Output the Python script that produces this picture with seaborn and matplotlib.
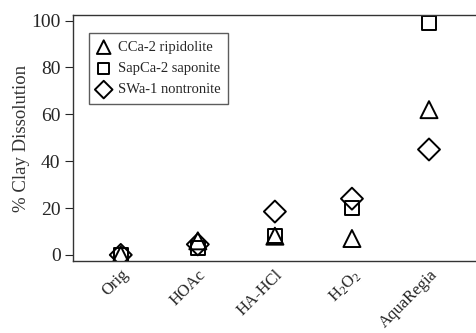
# Clay dissolution by extraction step

import pandas as pd
import seaborn as sns
import matplotlib.pyplot as plt

# Data
steps = ['Orig', 'HOAc', 'HA-HCl', 'H2O2', 'AquaRegia']
step_labels = ['Orig', 'HOAc', 'HA-HCl', 'H$_2$O$_2$', 'AquaRegia']
ripidolite = [0, 6, 8, 7, 62]
saponite = [0, 3, 8, 20, 99]
nontronite = [0, 4.5, 18.5, 24, 45]
series_names = ['CCa-2 ripidolite', 'SapCa-2 saponite', 'SWa-1 nontronite']

frames = []
for name, vals in zip(series_names, [ripidolite, saponite, nontronite]):
    frames.append(pd.DataFrame({'step': steps, 'value': vals, 'clay': name}))
data = pd.concat(frames, ignore_index=True)

sns.set_style('ticks')
plt.rcParams['font.family'] = ['Liberation Serif', 'DejaVu Serif']
plt.rcParams['mathtext.fontset'] = 'custom'
plt.rcParams['mathtext.rm'] = 'Liberation Serif'
plt.rcParams['mathtext.it'] = 'Liberation Serif:italic'

fig = plt.figure(figsize=(4.76, 3.33), dpi=100)
ax = fig.add_axes([73 / 476, 1 - 261 / 333, 1 - 73 / 476, (261 - 15) / 333])

markers = {'CCa-2 ripidolite': '^', 'SapCa-2 saponite': 's', 'SWa-1 nontronite': 'D'}
sizes = {'CCa-2 ripidolite': 150, 'SapCa-2 saponite': 95, 'SWa-1 nontronite': 125}
for name in series_names:
    sub = data[data['clay'] == name]
    sns.scatterplot(data=sub, x='step', y='value', marker=markers[name], s=sizes[name],
                    facecolor='none', edgecolor='black', linewidth=1.4, label=name, ax=ax)

ax.set_xlim(-0.62, 4.61)
ax.set_ylim(-2.6, 102.4)
ax.set_yticks([0, 20, 40, 60, 80, 100])
ax.set_xticks(range(len(steps)))
ax.set_xticklabels(step_labels, rotation=45, ha='right', rotation_mode='anchor', fontsize=12)
ax.tick_params(axis='y', labelsize=14, length=6, width=0.8, direction='out', pad=3)
ax.tick_params(axis='x', length=0, pad=4)
ax.set_xlabel('')
ax.set_ylabel('% Clay Dissolution', fontsize=13.5, color='#333333', labelpad=1)
ax.spines['right'].set_visible(False)
for side in ['left', 'top', 'bottom']:
    ax.spines[side].set_linewidth(1.0)
    ax.spines[side].set_color('#333333')

leg = ax.legend(loc='upper left', bbox_to_anchor=(0.04, 0.925), fontsize=10.5, frameon=True,
                fancybox=False, edgecolor='#333333', handletextpad=0.5, borderpad=0.5,
                labelspacing=0.55, handlelength=1.0, borderaxespad=0, markerscale=0.8)
leg.get_frame().set_linewidth(1.0)

fig.savefig('out.png', dpi=100)
